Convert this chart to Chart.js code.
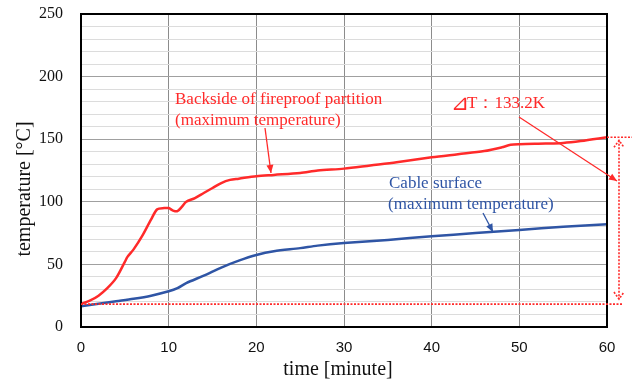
<!DOCTYPE html>
<html><head><meta charset="utf-8">
<script src="https://cdn.jsdelivr.net/npm/chart.js@4/dist/chart.umd.min.js"></script>
<style>html,body{margin:0;padding:0;background:#fff;}#wrap{width:638px;height:381px;position:relative;}</style>
</head><body><div id="wrap"><canvas id="c" width="638" height="381"></canvas></div>
<script>
const backsideTime = [0,1,2,3,4,5,5.3,6,7,8,8.7,9.5,10,10.5,11,11.5,12,13,14,15,16,17,18,20,22,25,27,30,33,36,40,43,46,48,49,50,53,55,57,60];
const backsideTemp = [18.5,21,25,31,39,52,56,62,73,86,94,95,95,93,92.5,96,100,103,107,111,115,117.5,118.5,120.5,121.5,123,125,126.5,129,131.5,135.5,138,140.5,143.5,145.5,146,146.5,147,148.5,151.5];
const cableTime = [0,2,4,6,8,10,11,12,14,16,18,20,22,25,27,30,35,40,45,50,55,60];
const cableTemp = [16.5,18.5,20.5,22.5,25,28.5,31,35,41,47.5,53,57.5,60.5,63,65,67,69.5,72.5,75,77.5,80,82];
const xTicks = [0,10,20,30,40,50,60];
const yTicks = [0,50,100,150,200,250];
const initialTemp = 18.3;
const deltaT = 133.2;

const RED = '#ff2a2a', BLUE = '#2f55a5';
const serif = "'Liberation Serif', 'Times New Roman', serif";

function arrow(ctx, x1, y1, x2, y2, color, w) {
  ctx.save();
  ctx.strokeStyle = color; ctx.fillStyle = color; ctx.lineWidth = w;
  ctx.beginPath(); ctx.moveTo(x1, y1); ctx.lineTo(x2, y2); ctx.stroke();
  const a = Math.atan2(y2 - y1, x2 - x1), L = 8, H = 3.5;
  ctx.beginPath();
  ctx.moveTo(x2, y2);
  ctx.lineTo(x2 - L*Math.cos(a) + H*Math.sin(a), y2 - L*Math.sin(a) - H*Math.cos(a));
  ctx.lineTo(x2 - L*Math.cos(a) - H*Math.sin(a), y2 - L*Math.sin(a) + H*Math.cos(a));
  ctx.closePath(); ctx.fill();
  ctx.restore();
}

const overlay = {
  id: 'overlay',
  afterDatasetsDraw(chart) {
    const {ctx, chartArea: ca, scales: {x, y}} = chart;
    ctx.save();
    ctx.strokeStyle = '#000'; ctx.lineWidth = 2;
    ctx.strokeRect(ca.left, ca.top, ca.right - ca.left, ca.bottom - ca.top);
    const yBase = y.getPixelForValue(initialTemp);
    const yTop = y.getPixelForValue(initialTemp + deltaT);
    ctx.strokeStyle = RED; ctx.lineWidth = 1.6; ctx.setLineDash([2, 1.5]);
    ctx.beginPath(); ctx.moveTo(ca.left, yBase); ctx.lineTo(ca.right + 15, yBase); ctx.stroke();
    ctx.beginPath(); ctx.moveTo(ca.right, yTop); ctx.lineTo(ca.right + 25, yTop); ctx.stroke();
    const vx = ca.right + 12;
    ctx.beginPath(); ctx.moveTo(vx, yTop + 3); ctx.lineTo(vx, yBase - 5); ctx.stroke();
    ctx.beginPath();
    ctx.moveTo(vx - 5, yTop + 10); ctx.lineTo(vx, yTop + 3); ctx.lineTo(vx + 5, yTop + 10);
    ctx.moveTo(vx - 5, yBase - 12); ctx.lineTo(vx, yBase - 5); ctx.lineTo(vx + 5, yBase - 12);
    ctx.stroke();
    ctx.setLineDash([]);
    ctx.font = '17px ' + serif; ctx.textBaseline = 'middle'; ctx.textAlign = 'left';
    ctx.fillStyle = RED;
    ctx.fillText('Backside of fireproof partition', 175, 100);
    ctx.fillText('(maximum temperature)', 175, 121);
    ctx.font = "22px 'DejaVu Sans', sans-serif";
    ctx.fillText('⊿', 451, 104);
    ctx.font = '17px ' + serif;
    ctx.fillText('T：133.2K', 467, 104);
    ctx.fillStyle = BLUE;
    ctx.fillText('Cable surface', 389, 184);
    ctx.fillText('(maximum temperature)', 388, 205);
    arrow(ctx, 265, 128, 271, 173, RED, 1.3);
    arrow(ctx, 519, 117, 617, 181, RED, 1.3);
    arrow(ctx, 483, 213, 493, 232, BLUE, 1.3);
    ctx.restore();
  },
  afterDraw(chart) {
    const {ctx} = chart;
    ctx.save();
    ctx.fillStyle = '#111';
    ctx.font = '20px ' + serif; ctx.textBaseline = 'middle'; ctx.textAlign = 'center';
    ctx.fillText('time [minute]', 338, 370);
    ctx.translate(25, 189); ctx.rotate(-Math.PI / 2);
    ctx.fillText('temperature [°C]', 0, 0);
    ctx.restore();
  }
};

new Chart(document.getElementById('c'), {
  type: 'line',
  data: {
    datasets: [
      { label: 'Backside of fireproof partition', data: backsideTime.map((t, i) => ({x: t, y: backsideTemp[i]})),
        borderColor: RED, borderWidth: 2.5, pointRadius: 0, tension: 0.3, fill: false },
      { label: 'Cable surface', data: cableTime.map((t, i) => ({x: t, y: cableTemp[i]})),
        borderColor: BLUE, borderWidth: 2.5, pointRadius: 0, tension: 0.3, fill: false }
    ]
  },
  options: {
    responsive: false, animation: false, devicePixelRatio: 1,
    layout: { padding: { left: 0, top: 0, right: 31, bottom: 0 } },
    plugins: { legend: { display: false }, tooltip: { enabled: false } },
    scales: {
      x: {
        type: 'linear', min: 0, max: 60,
        afterFit(s) { s.height = 54; },
        afterBuildTicks(s) { s.ticks = xTicks.map(v => ({value: v})); },
        grid: { color: '#8c8c8c', lineWidth: 1, drawTicks: false },
        border: { display: false },
        ticks: { padding: 12, color: '#111', font: { family: "'Liberation Sans', Arial, sans-serif", size: 15 } }
      },
      y: {
        min: 0, max: 250,
        afterFit(s) { s.width = 81; s.paddingTop = 14; },
        ticks: { stepSize: 10, padding: 18, color: '#111', autoSkip: false,
          font: { family: serif, size: 16 },
          callback: v => yTicks.includes(v) ? String(v) : '' },
        grid: { drawTicks: false, lineWidth: 1,
          color: c => (c.tick && c.tick.value % 50 === 0) ? '#a0a0a0' : '#dcdcdc' },
        border: { display: false }
      }
    }
  },
  plugins: [overlay]
});
</script></body></html>
